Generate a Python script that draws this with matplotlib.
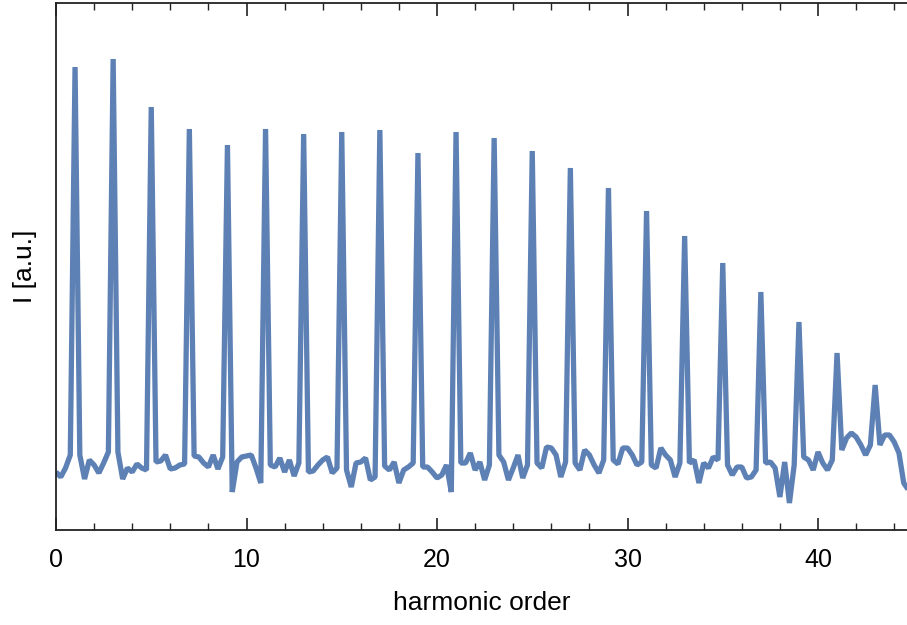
import numpy as np
import matplotlib
matplotlib.use("Agg")
import matplotlib.pyplot as plt
from matplotlib.ticker import MultipleLocator

# harmonic order grid (step 0.25)
harmonic_order = np.arange(0, 45, 0.25)

# intensity (arbitrary units), one value per grid point
intensity = [
    58, 53, 62, 75,
    463, 75, 51, 70, 65, 57, 67, 78,
    471, 78, 51, 62, 58, 66, 62, 60,
    423, 68, 69, 75, 61, 62, 65, 66,
    401, 74, 73, 67, 63, 75, 61, 73,
    385, 38, 68, 73, 74, 75, 62, 47,
    401, 65, 63, 72, 58, 70, 54, 67,
    396, 58, 59, 65, 70, 73, 57, 62,
    398, 60, 43, 67, 68, 72, 50, 53,
    400, 64, 60, 68, 47, 60, 63, 67,
    377, 63, 63, 58, 52, 55, 65, 38,
    398, 67, 67, 77, 60, 68, 50, 65,
    392, 75, 68, 50, 62, 75, 52, 65,
    379, 67, 62, 83, 82, 75, 53, 68,
    362, 67, 60, 80, 75, 65, 57, 70,
    342, 70, 66, 82, 82, 75, 65, 68,
    319, 65, 62, 82, 75, 70, 53, 67,
    294, 67, 70, 47, 67, 62, 73, 70,
    267, 65, 55, 63, 63, 52, 53, 60,
    238, 67, 68, 62, 33, 68, 27, 65,
    208, 73, 70, 60, 78, 67, 60, 70,
    177, 80, 92, 97, 93, 85, 75, 85,
    145, 85, 95, 95, 88, 77, 47, 40,
]

x_ticks = [0, 10, 20, 30, 40]
x_label = "harmonic order"
y_label = "I [a.u.]"

plt.rcParams['font.family'] = ['Liberation Sans', 'DejaVu Sans']

fig = plt.figure(figsize=(9.07, 6.25), dpi=100)
ax = fig.add_axes([56/907, 1 - 530/625, 1 - 56/907, 527/625])

ax.plot(harmonic_order, intensity, color='#5E81B5', lw=3.8,
        solid_joinstyle='bevel', solid_capstyle='butt')

ax.set_xlim(0, 851/19.05)
ax.set_ylim(0, 527)

ax.xaxis.set_major_locator(MultipleLocator(10))
ax.xaxis.set_minor_locator(MultipleLocator(2))
ax.set_xticks(x_ticks)
ax.set_yticks([])
ax.tick_params(axis='x', which='major', direction='in', length=9, width=1.2,
               top=True, labelsize=18, pad=13, colors='#222222', labelcolor='black')
ax.tick_params(axis='x', which='minor', direction='in', length=5, width=1.0,
               top=True, colors='#222222')

for s in ['left', 'bottom', 'top']:
    ax.spines[s].set_linewidth(1.3)
    ax.spines[s].set_color('#222222')
ax.spines['right'].set_visible(False)

ax.set_xlabel(x_label, fontsize=19, labelpad=14)
ax.set_ylabel(y_label, fontsize=19, labelpad=14)

fig.savefig("out.png", dpi=100)
